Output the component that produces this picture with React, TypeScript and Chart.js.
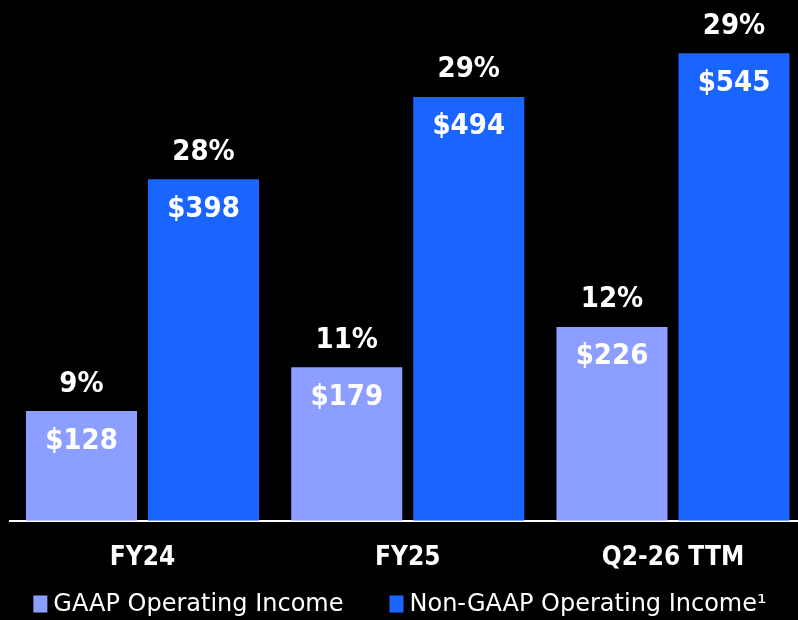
import React, { useEffect, useRef } from "react";
import { Chart, registerables } from "chart.js";

Chart.register(...registerables);

const categories = ["FY24", "FY25", "Q2-26 TTM"];
const gaapValues = [128, 179, 226];
const nonGaapValues = [398, 494, 545];
const gaapMargins = ["9%", "11%", "12%"];
const nonGaapMargins = ["28%", "29%", "29%"];
const seriesLabels = ["GAAP Operating Income", "Non-GAAP Operating Income\u00B9"];
const seriesColors = ["#8C9EFF", "#1A64FF"];
const yMax = 600;
const xMin = -0.4995;
const xMax = 2.4713;

const labelPlugin = {
  id: "barLabels",
  afterDatasetsDraw(chart: any) {
    const ctx = chart.ctx;
    chart.data.datasets.forEach((ds: any, di: number) => {
      const meta = chart.getDatasetMeta(di);
      meta.data.forEach((bar: any, i: number) => {
        const v = ds.data[i].y;
        ctx.save();
        ctx.fillStyle = "#ffffff";
        ctx.font = "bold 29px 'DejaVu Sans Condensed', 'DejaVu Sans'";
        ctx.textAlign = "center";
        ctx.textBaseline = "middle";
        ctx.fillText(ds.margins[i], bar.x, bar.y - 27);
        ctx.fillText("$" + v, bar.x, bar.y + 30);
        ctx.restore();
      });
    });
  },
};

const legendPlugin = {
  id: "customLegend",
  afterDraw(chart: any) {
    const ctx = chart.ctx;
    const boxW = 14;
    const boxH = 17;
    const gap = 6;
    const itemGap = 46;
    const y = 604;
    ctx.save();
    ctx.font = "24px 'DejaVu Sans'";
    const items = chart.data.datasets.map((ds: any) => ({
      text: ds.label,
      color: ds.backgroundColor,
      w: boxW + gap + ctx.measureText(ds.label).width,
    }));
    const total = items.reduce((s: number, it: any) => s + it.w, 0) + itemGap * (items.length - 1);
    let x = chart.width / 2 - total / 2 + 1;
    ctx.textBaseline = "middle";
    ctx.textAlign = "left";
    items.forEach((it: any) => {
      ctx.fillStyle = it.color;
      ctx.fillRect(x, y - boxH / 2, boxW, boxH);
      ctx.fillStyle = "#ffffff";
      ctx.fillText(it.text, x + boxW + gap, y + 1);
      x += it.w + itemGap;
    });
    ctx.restore();
  },
};

export default function App() {
  const ref = useRef<HTMLCanvasElement | null>(null);

  useEffect(() => {
    if (!ref.current) return;
    const chart = new Chart(ref.current, {
      type: "bar",
      data: {
        datasets: [
          {
            label: seriesLabels[0],
            data: gaapValues.map((v, i) => ({ x: i, y: v })),
            backgroundColor: seriesColors[0],
            borderWidth: 0,
            margins: gaapMargins,
          } as any,
          {
            label: seriesLabels[1],
            data: nonGaapValues.map((v, i) => ({ x: i, y: v })),
            backgroundColor: seriesColors[1],
            borderWidth: 0,
            margins: nonGaapMargins,
          } as any,
        ],
      },
      options: {
        animation: false,
        responsive: true,
        maintainAspectRatio: false,
        datasets: {
          bar: { categoryPercentage: 0.92, barPercentage: 0.91 },
        },
        layout: { padding: { top: 6, left: 10, right: 0, bottom: 32 } },
        scales: {
          x: {
            type: "linear",
            min: xMin,
            max: xMax,
            offset: false,
            grid: { display: false },
            border: { display: true, color: "#ffffff", width: 2 },
            ticks: {
              stepSize: 1,
              includeBounds: false,
              autoSkip: false,
              maxRotation: 0,
              padding: 14,
              color: "#ffffff",
              font: { family: "'DejaVu Sans Condensed', 'DejaVu Sans'", size: 26, weight: "bold" },
              callback: (v: any) => (Number.isInteger(v) ? categories[v] ?? "" : ""),
            },
          },
          y: {
            display: false,
            min: 0,
            max: yMax,
          },
        },
        plugins: {
          tooltip: { enabled: false },
          legend: { display: false },
        },
      },
      plugins: [labelPlugin, legendPlugin],
    });
    return () => chart.destroy();
  }, []);

  return (
    <div style={{ position: "absolute", left: 0, top: 0, width: 798, height: 620, background: "#000" }}>
      <canvas ref={ref} />
    </div>
  );
}
